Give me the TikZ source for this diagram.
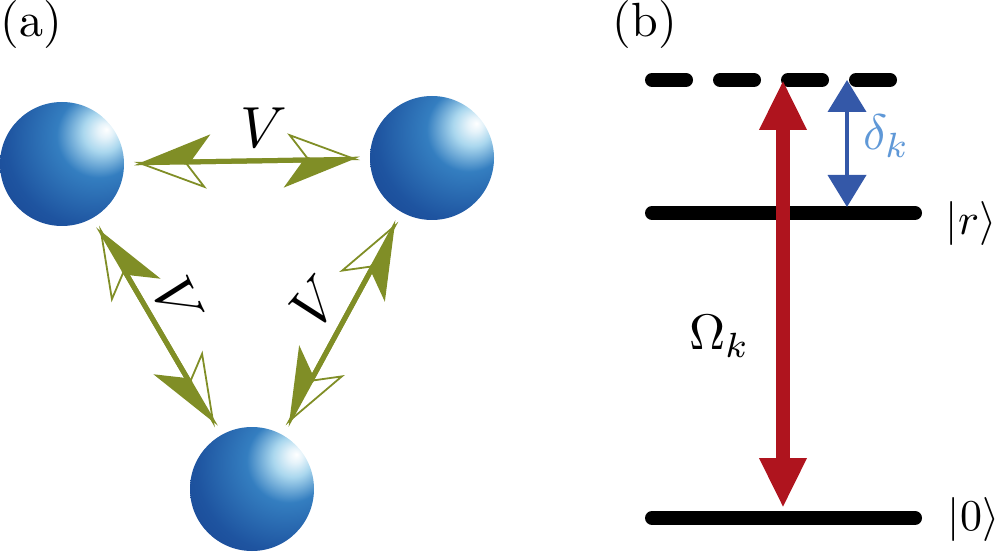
\documentclass[tikz,border=0pt]{standalone}
\usepackage{amsmath,amssymb}
\usetikzlibrary{arrows.meta}
\definecolor{vgreen}{RGB}{128,142,38}
\definecolor{omred}{RGB}{175,20,30}
\definecolor{delblue}{RGB}{52,88,168}
\definecolor{dellight}{RGB}{95,152,215}
\definecolor{ballhi}{RGB}{170,215,238}
\definecolor{ballmid}{RGB}{52,126,192}
\definecolor{balldark}{RGB}{30,84,160}
\definecolor{balldeep}{RGB}{22,60,138}
\definecolor{ballrim}{RGB}{18,46,115}
\pgfdeclareradialshading{ballblue}{\pgfpoint{18bp}{14bp}}{color(0bp)=(white); color(3bp)=(white!70!ballhi); color(8bp)=(ballhi); color(17bp)=(ballmid); color(34bp)=(balldark); color(55bp)=(balldeep); color(72bp)=(ballrim); color(95bp)=(ballrim)}

\begin{document}
\begin{tikzpicture}[x=0.5pt,y=-0.5pt]
\tikzstyle{every node}+=[inner sep=0pt]
\tikzstyle{ball}=[circle, minimum size=62pt, shading=ballblue, outer sep=5pt]
\tikzstyle{vhalf}=[draw=vgreen, line width=2.5pt,
  {Stealth[harpoon,swap,length=35pt,width=27pt,inset=10pt,fill=vgreen]}-{Stealth[harpoon,swap,length=35pt,width=27pt,inset=10pt,fill=vgreen]}]
\tikzstyle{vopen}=[draw=vgreen, line width=2.5pt,
  {Stealth[harpoon,open,length=35pt,width=27pt,inset=10pt,line width=0.9pt]}-{Stealth[harpoon,open,length=35pt,width=27pt,inset=10pt,line width=0.9pt]}]
\tikzstyle{vlabel}=[scale=2.9]
\tikzstyle{level}=[line width=7pt, line cap=round]
\tikzstyle{ket}=[anchor=base west, scale=2.2]
\useasboundingbox (0,0) rectangle (1000,555);
% panel labels
\node [anchor=base west, scale=2.4] (pa) at (0,37) {(a)};
\node [anchor=base west, scale=2.4] (pb) at (612,37) {(b)};
% three atoms
\node [ball] (atomA) at (62,164) {};
\node [ball] (atomB) at (432,158) {};
\node [ball] (atomC) at (252,489) {};
% interactions
\draw [vhalf] (atomA) -- (atomB);
\draw [vopen] (atomA) -- (atomB);
\draw [vhalf] (atomA) -- (atomC);
\draw [vopen] (atomA) -- (atomC);
\draw [vhalf] (atomB) -- (atomC);
\draw [vopen] (atomB) -- (atomC);
\node [vlabel] (Vab) at (264,128) {$V$};
\node [vlabel, rotate=-65] (Vac) at (178,301) {$V$};
\node [vlabel, rotate=50] (Vbc) at (316,302) {$V$};
% levels
\coordinate (virtL) at (652,80);
\coordinate (virtR) at (893,80);
\coordinate (rydL) at (652,213);
\coordinate (rydR) at (915,213);
\coordinate (gndL) at (652,518);
\coordinate (gndR) at (915,518);
\draw [level, dash pattern=on 17pt off 17pt] (virtL) -- (virtR);
\draw [level] (rydL) -- (rydR);
\draw [level] (gndL) -- (gndR);
\node [ket] (ketr) at (945,235) {$|r\rangle$};
\node [ket] (ket0) at (947,530) {$|0\rangle$};
% couplings
\coordinate (omTop) at (783,80);
\coordinate (omBot) at (783,508);
\coordinate (deTop) at (847,80);
\coordinate (deBot) at (847,207);
\draw [omred, line width=7pt, {Triangle[length=25pt,width=22pt]}-{Triangle[length=25pt,width=22pt]}] (omTop) -- (omBot);
\draw [delblue, line width=2pt, {Triangle[length=16pt,width=19pt]}-{Triangle[length=16pt,width=19pt]}] (deTop) -- (deBot);
\node [anchor=base west, scale=2.5] (Om) at (688,350) {$\Omega_k$};
\node [anchor=base west, scale=2.5, text=dellight] (de) at (862,150) {$\delta_k$};
\end{tikzpicture}
\end{document}
